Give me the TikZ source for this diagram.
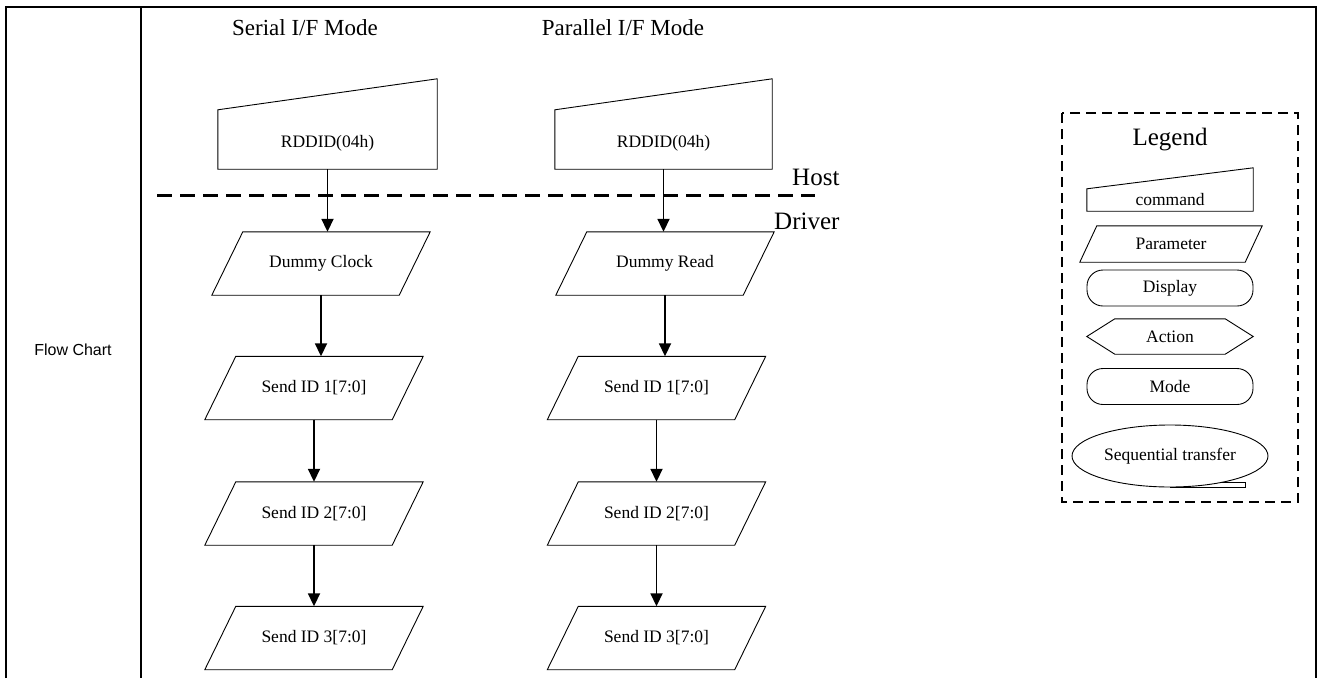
\documentclass[tikz,border=0pt]{standalone}
\usepackage{fontspec}
\setmainfont{Liberation Serif}
\newfontfamily\arialf{Liberation Sans}
\usetikzlibrary{arrows.meta,calc,shapes.geometric}
\newcommand\pgram[5]{%
  \node[pbox,minimum width=#4pt] (#1) at #2 {#3};
  \draw[shp] ($(#1.north west)+(#5,0)$) -- (#1.north east) -- ($(#1.south east)-(#5,0)$) -- (#1.south west) -- cycle;}
\newcommand\cmdshape[5]{%
  \node[cbox,minimum width=#3pt,minimum height=#4pt] (#1) at #2 {};
  \draw[shp] (#1.south west) -- (#1.south east) -- (#1.north east) -- ($(#1.north west)+(0,#5)$) -- cycle;}
\begin{document}
\begin{tikzpicture}[x=1pt,y=-1pt,
  frame/.style={line width=2.5pt},
  shp/.style={draw,line width=0.9pt},
  txt/.style={font=\fontsize{17.5}{20}\selectfont},
  pbox/.style={txt,inner sep=0pt,minimum height=63pt},
  cbox/.style={inner sep=0pt},
  arr/.style={-{Triangle[length=13pt,width=12pt]},line width=1.8pt},
  sepline/.style={line width=3pt,dash pattern=on 15pt off 8pt},
  legbox/.style={line width=2.4pt,dash pattern=on 10pt off 6pt},
  title/.style={font=\fontsize{23}{26}\selectfont},
  big/.style={font=\fontsize{25}{28}\selectfont},
  round/.style={draw,line width=0.9pt,rounded corners=16pt,minimum width=166pt,minimum height=36pt,inner sep=0pt,txt}]
\useasboundingbox (0,0) rectangle (1318,678);
% frame
\draw[frame] (6,678) -- (6,7) -- (1316,7) -- (1316,678);
\draw[frame] (141,7) -- (141,678);
\node[font=\arialf\fontsize{16}{19}\selectfont] (fc) at (73,350) {Flow Chart};
% titles
\node[title] (ts) at (305,28) {Serial I/F Mode};
\node[title] (tp) at (623,28) {Parallel I/F Mode};
% host / driver separator
\draw[sepline] (157,195) -- (815,195);
\node[big,anchor=east] (host) at (843,177) {Host};
\node[big,anchor=east] (drv) at (843,221) {Driver};
% serial column
\cmdshape{s0}{(327.5,124)}{219}{90}{31}
\node[txt] (s0t) at ($(s0.center)+(0,19)$) {RDDID(04h)};
\pgram{s1}{(321,263.5)}{Dummy Clock}{218}{31}
\pgram{s2}{(314,388)}{Send ID 1[7:0]}{218}{31}
\pgram{s3}{(314,513.5)}{Send ID 2[7:0]}{218}{31}
\pgram{s4}{(314,638)}{Send ID 3[7:0]}{218}{31}
% parallel column
\cmdshape{p0}{(663.5,124)}{217}{90}{31}
\node[txt] (p0t) at ($(p0.center)+(0,19)$) {RDDID(04h)};
\pgram{p1}{(665,263.5)}{Dummy Read}{218}{31}
\pgram{p2}{(656.5,388)}{Send ID 1[7:0]}{218}{31}
\pgram{p3}{(656.5,513.5)}{Send ID 2[7:0]}{218}{31}
\pgram{p4}{(656.5,638)}{Send ID 3[7:0]}{218}{31}
% arrows
\foreach \c in {s,p}{
  \draw[arr] (\c0.south) -- (\c0.south |- \c1.north);
  \draw[arr] (\c1.south) -- (\c1.south |- \c2.north);
  \draw[arr] (\c2.south) -- (\c2.south |- \c3.north);
  \draw[arr] (\c3.south) -- (\c3.south |- \c4.north);
}
% legend
\draw[legbox] (1062,113) rectangle (1298,502);
\node[big] (lg) at (1170,140) {Legend};
\cmdshape{l1}{(1170,189.5)}{166}{43}{21}
\node[txt] (l1t) at (1170,200) {command};
\node[pbox,minimum width=182pt,minimum height=36pt] (l2) at (1171,244) {Parameter};
\draw[shp] ($(l2.north west)+(17,0)$) -- (l2.north east) -- ($(l2.south east)-(17,0)$) -- (l2.south west) -- cycle;
\node[round] (l3) at (1170,288) {Display};
\node[txt,inner sep=0pt,minimum width=166pt,minimum height=35pt] (l4) at (1170,336.5) {Action};
\draw[shp] (l4.west) -- ($(l4.north west)+(28,0)$) -- ($(l4.north east)-(28,0)$) -- (l4.east) -- ($(l4.south east)-(28,0)$) -- ($(l4.south west)+(28,0)$) -- cycle;
\node[round] (l5) at (1170,386.5) {Mode};
\node[txt,ellipse,draw,line width=0.9pt,inner sep=0pt,minimum width=196pt,minimum height=62pt] (l6) at (1170,456) {Sequential transfer};
\draw[shp] (l6.south) -- ($(l6.south)+(75,0)$) -- ($(l6.south)+(75,-5)$) -- ($(l6.south)+(52,-5)$);
\end{tikzpicture}
\end{document}
